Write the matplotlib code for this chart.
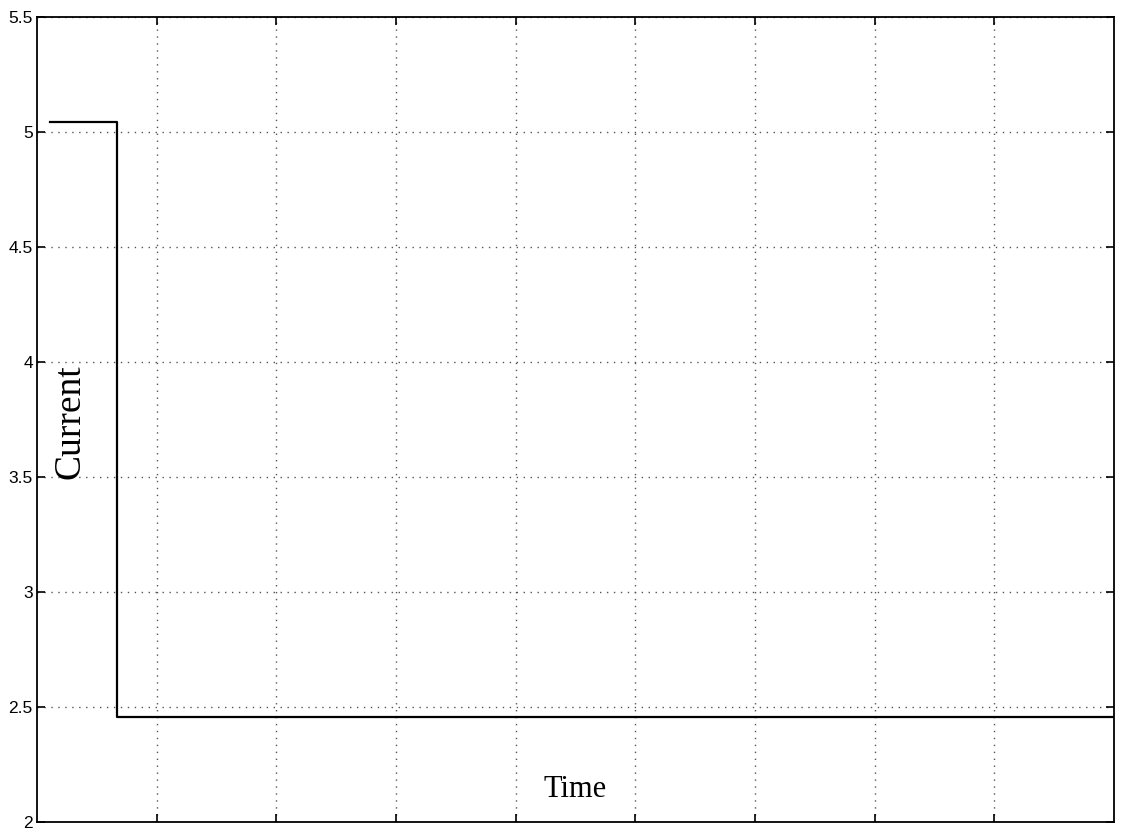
import matplotlib
matplotlib.use("Agg")
import matplotlib.pyplot as plt

# data
t = [0.11, 0.67, 0.67, 9.0]
current = [5.045, 5.045, 2.455, 2.455]
yticks = [2, 2.5, 3, 3.5, 4, 4.5, 5, 5.5]
yticklabels = ["2", "2.5", "3", "3.5", "4", "4.5", "5", "5.5"]
xticks = [1, 2, 3, 4, 5, 6, 7, 8]

fig = plt.figure(figsize=(11.22, 8.34), dpi=100)
ax = fig.add_axes([37/1122, 12/834, (1114-37)/1122, (822-17)/834])
ax.plot(t, current, color="black", linewidth=1.6)
ax.set_xlim(0, 9)
ax.set_ylim(2, 5.5)
ax.set_yticks(yticks)
ax.set_yticklabels(yticklabels, fontsize=12.5, family="Liberation Sans")
ax.set_xticks(xticks)
ax.set_xticklabels([])
ax.tick_params(direction="in", length=6, width=1.2, top=True, right=True, pad=3)
ax.grid(True, linestyle=(0, (1, 4)), color="#555555", linewidth=1)
for s in ax.spines.values():
    s.set_linewidth(1.3)
ax.text(0.031, 0.497, "Current", rotation=90, transform=ax.transAxes,
        ha="center", va="center", fontsize=27, family="Liberation Serif")
ax.text(0.5, 0.04, "Time", transform=ax.transAxes,
        ha="center", va="center", fontsize=22, family="Liberation Serif")
fig.savefig("out.png", dpi=100)
